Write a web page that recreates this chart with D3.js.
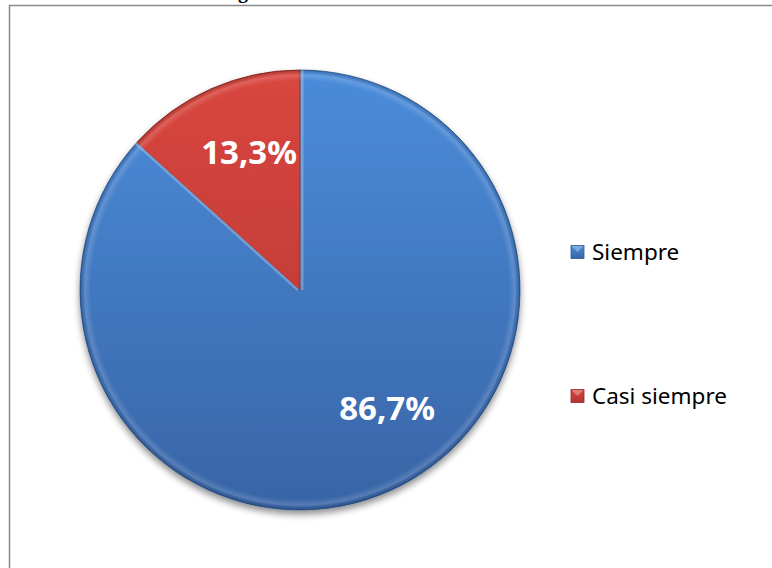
<!DOCTYPE html>
<html>
<head>
<meta charset="utf-8">
<script src="https://cdn.jsdelivr.net/npm/d3@7/dist/d3.min.js"></script>
<style>
  body { margin: 0; background: #fff; }
  svg { display: block; }
</style>
</head>
<body>
<svg id="chart" width="772" height="568"></svg>
<script>
// data
const categories = ["Siempre", "Casi siempre"];
const values = [86.7, 13.3];
const labels = ["86,7%", "13,3%"];

// colours (top / bottom of the gradient)
const topColors = ["#4b8cda", "#d9463f"];
const bottomColors = ["#3864a6", "#b23531"];
const edgeColors = ["#2f5a94", "#8e2a27"];

const svg = d3.select("#chart");
const width = +svg.attr("width");
const height = +svg.attr("height");

const cx = 300, cy = 290, radius = 220;
const labelRadius = 147;
const labelAngleShift = [-0.216, 0.064]; // Excel nudges its labels a bit

const defs = svg.append("defs");

// soft shadow under the pie
const shadow = defs.append("filter")
  .attr("id", "shadow")
  .attr("x", "-10%").attr("y", "-10%")
  .attr("width", "120%").attr("height", "125%");
shadow.append("feGaussianBlur").attr("in", "SourceAlpha").attr("stdDeviation", 3.5);
shadow.append("feOffset").attr("dy", 4).attr("result", "blur");
shadow.append("feComponentTransfer").append("feFuncA").attr("type", "linear").attr("slope", 0.45);
const merge = shadow.append("feMerge");
merge.append("feMergeNode");
merge.append("feMergeNode").attr("in", "SourceGraphic");

categories.forEach((c, i) => {
  const g = defs.append("linearGradient")
    .attr("id", "grad" + i)
    .attr("gradientUnits", "userSpaceOnUse")
    .attr("x1", 0).attr("y1", cy - radius)
    .attr("x2", 0).attr("y2", cy + radius);
  g.append("stop").attr("offset", "0%").attr("stop-color", topColors[i]);
  g.append("stop").attr("offset", "100%").attr("stop-color", bottomColors[i]);

  const lg = defs.append("linearGradient")
    .attr("id", "leg" + i)
    .attr("x1", 0).attr("y1", 0).attr("x2", 0).attr("y2", 1);
  lg.append("stop").attr("offset", "0%").attr("stop-color", topColors[i]);
  lg.append("stop").attr("offset", "100%").attr("stop-color", bottomColors[i]);
});

// bevel ring along the rim
const bevel = defs.append("radialGradient")
  .attr("id", "bevel")
  .attr("gradientUnits", "userSpaceOnUse")
  .attr("cx", cx).attr("cy", cy).attr("r", radius);
bevel.append("stop").attr("offset", "0.95").attr("stop-color", "#fff").attr("stop-opacity", 0);
bevel.append("stop").attr("offset", "0.978").attr("stop-color", "#fff").attr("stop-opacity", 0.16);
bevel.append("stop").attr("offset", "0.992").attr("stop-color", "#000").attr("stop-opacity", 0.08);
bevel.append("stop").attr("offset", "1").attr("stop-color", "#000").attr("stop-opacity", 0.3);

// frame of the chart area (cut off on the right and bottom)
svg.append("rect")
  .attr("x", 9.5).attr("y", 5.5)
  .attr("width", width + 20).attr("height", height + 20)
  .attr("fill", "none")
  .attr("stroke", "#8a8a8a")
  .attr("stroke-width", 1.5);

// descender of the caption above, cut off by the page
svg.append("text")
  .attr("x", 243).attr("y", -2)
  .attr("text-anchor", "middle")
  .attr("font-family", "Liberation Serif, serif")
  .attr("font-weight", "bold")
  .attr("font-size", 20)
  .attr("fill", "#000")
  .text("g");

const pie = d3.pie().sort(null).value(d => d)(values);
const arc = d3.arc().innerRadius(0).outerRadius(radius);

const g = svg.append("g").attr("transform", `translate(${cx},${cy})`);

const slices = g.append("g").attr("filter", "url(#shadow)");
slices.selectAll("path.slice")
  .data(pie)
  .join("path")
  .attr("class", "slice")
  .attr("d", arc)
  .attr("transform", `translate(${-cx},${-cy})`)
  .attr("transform", null)
  .attr("fill", (d, i) => `url(#grad${i})`)
  .attr("stroke", (d, i) => edgeColors[i])
  .attr("stroke-width", 0.8)
  .attr("stroke-linejoin", "round");

// the gradients are in page space, so re-anchor them inside the group
defs.selectAll("linearGradient[id^=grad]")
  .attr("y1", -radius).attr("y2", radius);
bevel.attr("cx", 0).attr("cy", 0);

// rim bevel
g.selectAll("path.rim")
  .data(pie)
  .join("path")
  .attr("class", "rim")
  .attr("d", arc)
  .attr("fill", "url(#bevel)");

// light edge along the straight sides
const edgeLine = d3.lineRadial();
g.selectAll("path.side")
  .data(pie)
  .join("path")
  .attr("class", "side")
  .attr("d", d => edgeLine([[d.startAngle, 0], [d.startAngle, radius]]))
  .attr("stroke", "#fff")
  .attr("stroke-opacity", 0.25)
  .attr("stroke-width", 3)
  .attr("transform", (d, i) => `translate(${i === 0 ? 2 : -2},0)`);

// value labels
const labelArc = d3.arc().innerRadius(labelRadius).outerRadius(labelRadius);
g.selectAll("text.val")
  .data(pie)
  .join("text")
  .attr("class", "val")
  .attr("transform", (d, i) => {
    const a = (d.startAngle + d.endAngle) / 2 + labelAngleShift[i];
    const p = labelArc.centroid({ startAngle: a, endAngle: a });
    return `translate(${p[0]},${p[1]})`;
  })
  .attr("text-anchor", "middle")
  .attr("dy", "0.36em")
  .attr("font-family", "Noto Sans, sans-serif")
  .attr("font-weight", "bold")
  .attr("font-size", 33)
  .attr("fill", "#fff")
  .text((d, i) => labels[i]);

// legend
const legendY = d3.scalePoint().domain(categories).range([252, 396]);
const legend = svg.append("g")
  .selectAll("g")
  .data(categories)
  .join("g")
  .attr("transform", d => `translate(571,${legendY(d)})`);

legend.append("rect")
  .attr("x", 0).attr("y", -6.5)
  .attr("width", 13).attr("height", 13)
  .attr("fill", (d, i) => `url(#leg${i})`)
  .attr("stroke", (d, i) => edgeColors[i])
  .attr("stroke-width", 0.8);

legend.append("path")
  .attr("d", "M0.5,-6L12.5,-6L6.5,0Z")
  .attr("fill", "#fff")
  .attr("fill-opacity", 0.3);

legend.append("text")
  .attr("x", 21)
  .attr("y", 0)
  .attr("dy", "0.35em")
  .attr("font-family", "Noto Sans, sans-serif")
  .attr("font-size", 22.5)
  .attr("fill", "#000")
  .text(d => d);
</script>
</body>
</html>
